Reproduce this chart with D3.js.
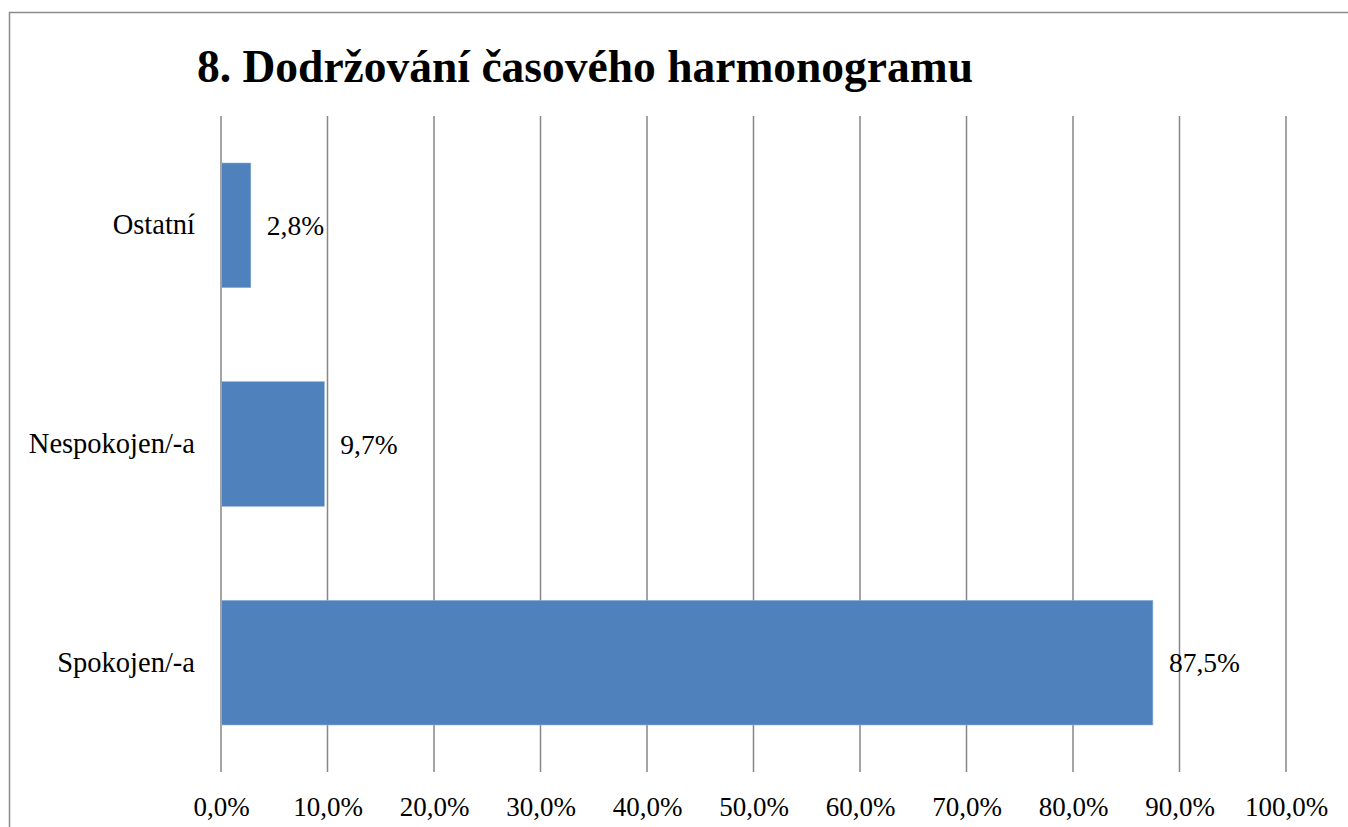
<!DOCTYPE html>
<html>
<head>
<meta charset="utf-8">
<script src="https://cdn.jsdelivr.net/npm/d3@7"></script>
<style>
  body { margin: 0; background: #fff; }
  text { font-family: "Liberation Serif", "DejaVu Serif", serif; fill: #000; }
</style>
</head>
<body>
<svg id="chart" width="1348" height="827"></svg>
<script>
// data
let categories = ["Ostatní", "Nespokojen/-a", "Spokojen/-a"];
let values = [2.8, 9.7, 87.5];
let ticks = [0, 10, 20, 30, 40, 50, 60, 70, 80, 90, 100];
let title = "8. Dodržování časového harmonogramu";

let svg = d3.select("#chart");
let margin = { left: 221, right: 62, top: 116, bottom: 55 };
let width = 1348;
let height = 827;

// outer frame, runs off the right and bottom edge like the source
svg.append("rect")
  .attr("x", 9.5)
  .attr("y", 12.5)
  .attr("width", 1400)
  .attr("height", 900)
  .style("fill", "none")
  .style("stroke", "#8c8c8c")
  .style("stroke-width", 1.5);

let x = d3.scaleLinear()
  .domain([0, 100])
  .range([margin.left, width - margin.right]);

let y = d3.scaleBand()
  .domain(categories)
  .range([margin.top, height - margin.bottom])
  .paddingInner(0.43)
  .paddingOuter(0.215);

let fmt = function(v) {
  return d3.format(".1f")(v).replace(".", ",") + "%";
};

// gridlines
svg.append("g")
  .selectAll("line")
  .data(ticks)
  .enter()
  .append("line")
  .attr("x1", function(d) { return x(d); })
  .attr("x2", function(d) { return x(d); })
  .attr("y1", margin.top)
  .attr("y2", height - margin.bottom)
  .style("stroke", "#868686")
  .style("stroke-width", 1.5);

// x axis labels
let xAxis = d3.axisBottom(x)
  .tickValues(ticks)
  .tickSize(0)
  .tickPadding(0)
  .tickFormat(fmt);

svg.append("g")
  .attr("transform", "translate(0," + (height - margin.bottom) + ")")
  .call(xAxis)
  .call(function(g) { g.select(".domain").remove(); })
  .selectAll("text")
  .attr("y", 44)
  .attr("dy", 0)
  .style("font-size", "27px")
  .style("font-family", "'Liberation Serif', serif");

// y axis labels
let yAxis = d3.axisLeft(y)
  .tickSize(0)
  .tickPadding(26);

svg.append("g")
  .attr("transform", "translate(" + margin.left + ",0)")
  .call(yAxis)
  .call(function(g) { g.select(".domain").remove(); })
  .selectAll("text")
  .style("font-size", "28.5px")
  .style("font-family", "'Liberation Serif', serif");

// bars
svg.append("g")
  .selectAll("rect")
  .data(values)
  .enter()
  .append("rect")
  .attr("x", x(0) + 0.75)
  .attr("y", function(d, i) { return y(categories[i]); })
  .attr("width", function(d) { return x(d) - x(0) - 0.75; })
  .attr("height", y.bandwidth())
  .style("fill", "#4f81bd")
  .style("stroke", "#8eb0dc")
  .style("stroke-width", 0.6);

// value labels
svg.append("g")
  .selectAll("text")
  .data(values)
  .enter()
  .append("text")
  .attr("x", function(d) { return x(d) + 16; })
  .attr("y", function(d, i) { return y(categories[i]) + y.bandwidth() / 2; })
  .attr("dy", "0.35em")
  .style("font-size", "27.5px")
  .text(fmt);

// title
svg.append("text")
  .attr("x", 197)
  .attr("y", 82)
  .style("font-size", "45.5px")
  .style("font-weight", "bold")
  .text(title);
</script>
</body>
</html>
